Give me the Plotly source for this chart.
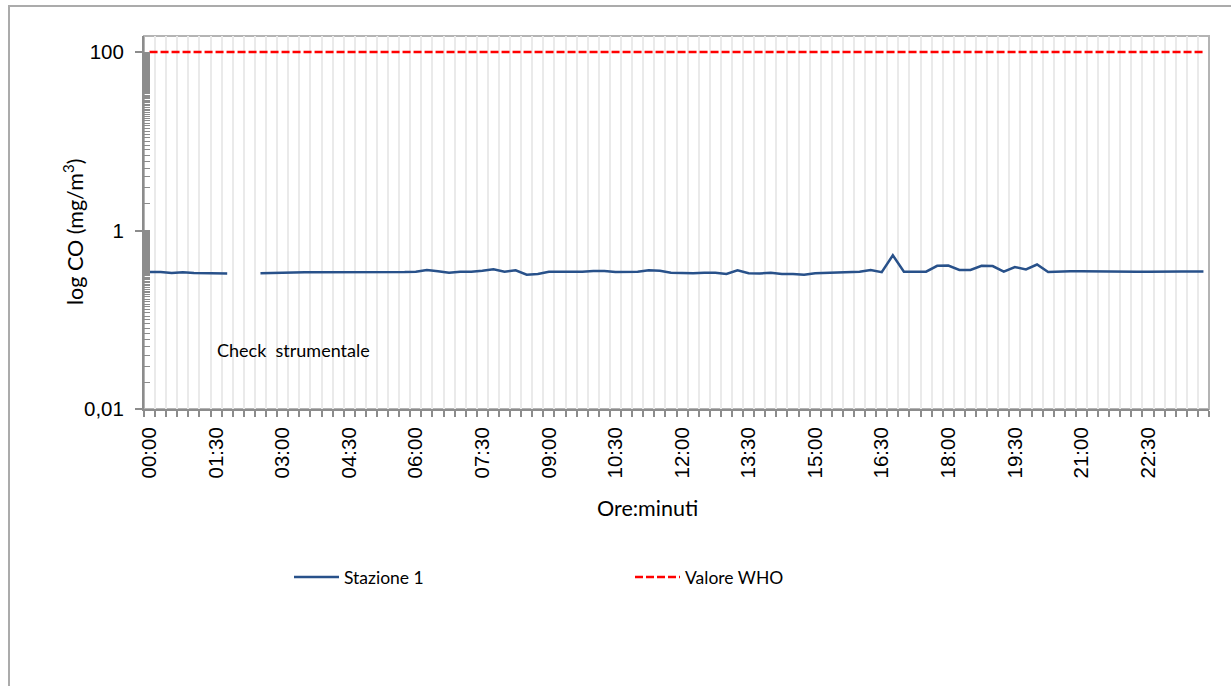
import plotly.graph_objects as go

# ---- data ----
times = [f"{h:02d}:{m:02d}" for h in range(24) for m in (0, 15, 30, 45)]

stazione_1 = [
    0.343, 0.343, 0.335, 0.340, 0.335, 0.333, 0.335, 0.330,   # 00:00-01:45
    None, None,                                               # 02:00-02:15 (check strumentale)
    0.333, 0.333, 0.335, 0.338, 0.340, 0.340, 0.338, 0.340,   # 02:30-04:15
    0.342, 0.342, 0.342, 0.343, 0.343, 0.343, 0.346, 0.361,   # 04:30-06:15
    0.350, 0.337, 0.346, 0.346, 0.355, 0.367, 0.346, 0.358,   # 06:30-08:15
    0.320, 0.326, 0.346, 0.345, 0.342, 0.346, 0.352, 0.352,   # 08:30-10:15
    0.343, 0.342, 0.346, 0.358, 0.355, 0.337, 0.333, 0.333,   # 10:30-12:15
    0.336, 0.336, 0.326, 0.358, 0.333, 0.330, 0.337, 0.326,   # 12:30-14:15
    0.326, 0.320, 0.333, 0.337, 0.343, 0.346, 0.346, 0.361,   # 14:30-16:15
    0.342, 0.528, 0.346, 0.346, 0.346, 0.402, 0.405, 0.361,   # 16:30-18:15
    0.361, 0.402, 0.400, 0.346, 0.390, 0.367, 0.416, 0.343,   # 18:30-20:15
    0.348, 0.350, 0.350, 0.348, 0.350, 0.350, 0.348, 0.346,   # 20:30-22:15
    0.346, 0.348, 0.348, 0.347, 0.347, 0.347,                 # 22:30-23:45
]
valore_who = [100] * len(times)

y_tickvals = [0.01, 1, 100]
y_ticktext = ["0,01", "1", "100"]
y_minor = [round(0.01 * k, 2) for k in range(2, 100)] + list(range(2, 100))

x_idx = list(range(len(times)))
label_every = 6
x_tickvals = x_idx[::label_every]
x_ticktext = times[::label_every]

AXIS_GREY = "#8C8C8C"
TICK_FONT = dict(family="Liberation Sans, Arial", size=20.5, color="#000000")
TEXT_FONT = dict(family="Lato, Open Sans", size=17.5, color="#000000")
TITLE_FONT = dict(family="Lato, Open Sans", size=21.5, color="#000000")

fig = go.Figure()
fig.add_trace(go.Scatter(
    x=x_idx, y=stazione_1, mode="lines", name="Stazione 1", text=times,
    line=dict(color="#28518A", width=2.5), connectgaps=False,
))
fig.add_trace(go.Scatter(
    x=x_idx, y=valore_who, mode="lines", name="Valore WHO", text=times,
    line=dict(color="#FF0000", width=2.5, dash="8px,3px"),
))

W, H = 1231, 686
L, R, T, B = 144, 22, 36, 277
pw, ph = W - L - R, H - T - B


def px_x(p):
    return (p - L) / pw


def px_y(p):
    return (H - B - p) / ph


fig.update_layout(
    width=W, height=H,
    margin=dict(l=L, r=R, t=T, b=B),
    paper_bgcolor="white", plot_bgcolor="white",
    showlegend=True,
    legend=dict(
        orientation="h", x=px_x(289), y=px_y(577), xanchor="left", yanchor="middle",
        font=TEXT_FONT, entrywidth=281, entrywidthmode="pixels", itemwidth=45,
        bgcolor="rgba(0,0,0,0)",
    ),
    xaxis=dict(
        type="linear", range=[-0.5, len(times) - 0.5],
        tickmode="array", tickvals=x_tickvals, ticktext=x_ticktext,
        ticks="", tickangle=-90, tickfont=TICK_FONT, ticklabelstandoff=8,
        showgrid=False,
        minor=dict(tick0=0.5, dtick=1, ticks="outside", ticklen=6,
                   tickcolor=AXIS_GREY, tickwidth=1.5,
                   showgrid=True, gridcolor="#EAEAEA", gridwidth=1.5),
        showline=True, linecolor=AXIS_GREY, linewidth=2,
        zeroline=False, fixedrange=True,
    ),
    yaxis=dict(
        type="log", range=[-2, 2.18],
        tickmode="array", tickvals=y_tickvals, ticktext=y_ticktext,
        ticks="outside", ticklen=7, tickcolor=AXIS_GREY, tickwidth=1.5,
        tickfont=TICK_FONT, ticklabelstandoff=7,
        showgrid=False, zeroline=False,
        showline=True, linecolor=AXIS_GREY, linewidth=2,
        minor=dict(tickmode="array", tickvals=y_minor, ticks="inside", ticklen=6,
                   tickcolor=AXIS_GREY, tickwidth=1, showgrid=False),
        fixedrange=True,
    ),
    shapes=[
        # plot-area border
        dict(type="rect", xref="paper", yref="paper", x0=0, x1=1, y0=0, y1=1,
             line=dict(color="#B4B4B4", width=2), layer="below"),
        # outer chart frame
        dict(type="rect", xref="paper", yref="paper",
             x0=px_x(9), x1=px_x(1240), y0=px_y(695), y1=px_y(6),
             line=dict(color="#ABABAB", width=2), layer="below"),
    ],
    annotations=[
        dict(text="log CO (mg/m<sup>3</sup>)", xref="paper", yref="paper",
             x=px_x(73), y=px_y(232), textangle=-90, showarrow=False,
             xanchor="center", yanchor="middle", font=TITLE_FONT),
        dict(text="Ore:minuti", xref="paper", yref="paper",
             x=px_x(647), y=px_y(508), showarrow=False,
             xanchor="center", yanchor="middle", font=TITLE_FONT),
        dict(text="Check&nbsp;&nbsp;strumentale", xref="paper", yref="paper",
             x=px_x(215), y=px_y(350), showarrow=False,
             xanchor="left", yanchor="middle", font=dict(family="Lato, Open Sans", size=18, color="#000000")),
    ],
)

fig.write_html("out.html", config={"displayModeBar": False},
               post_script="document.body.style.margin='0';")
